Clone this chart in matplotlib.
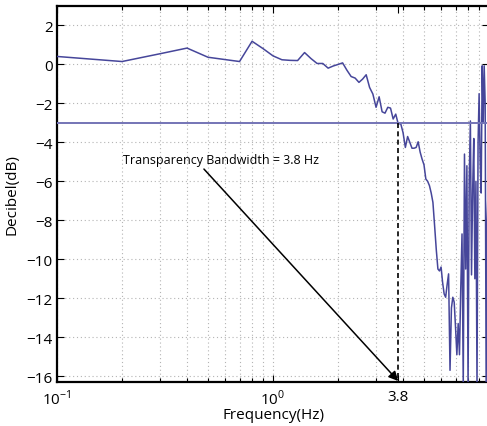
import numpy as np
import matplotlib
matplotlib.use("Agg")
import matplotlib.pyplot as plt

plt.rcParams["font.family"] = ["Open Sans", "DejaVu Sans"]
plt.rcParams["mathtext.fontset"] = "custom"
plt.rcParams["mathtext.rm"] = "Open Sans"

# frequency response (0.1 Hz steps)
freq = np.round(np.arange(1, 100) * 0.1, 1)
db = [
    0.41, 0.15, 0.55, 0.84, 0.37, 0.25, 0.15, 1.19, 0.81, 0.44,
    0.24, 0.21, 0.20, 0.61, 0.30, 0.05, 0.05, -0.19, -0.08, 0.00,
    0.08, -0.30, -0.62, -0.70, -0.92, -0.75, -0.53, -1.18, -1.52, -2.20,
    -1.66, -2.43, -2.50, -2.20, -2.24, -2.80, -2.55, -3.06, -3.03, -3.50,
    -4.26, -3.70, -4.00, -4.30, -4.30, -4.26, -3.97, -4.50, -4.86, -5.15,
    -5.88, -6.00, -6.22, -6.60, -7.08, -8.28, -9.50, -10.50, -10.60, -10.40,
    -11.20, -11.78, -11.95, -11.30, -10.75, -15.70, -12.50, -11.95, -12.20, -13.50,
    -14.90, -13.30, -14.90, -11.50, -8.70, -16.50, -4.60, -10.50, -5.20, -16.50,
    -5.90, -2.90, -10.80, -6.50, -3.80, -11.00, -6.00, -16.50, -4.00, -1.50,
    -5.00, -6.60, -0.07, -3.00, -0.07, -2.00, -16.50, -8.00, -6.50,
]
cutoff_db = -3
bandwidth = 3.8

xticks = [0.1, 1, bandwidth]
xticklabels = [r"$10^{-1}$", r"$10^{0}$", "3.8"]
yticks = list(range(-16, 3, 2))

fig = plt.figure(figsize=(4.87, 4.27), dpi=100)
W, H = 487, 427
ax = fig.add_axes([57 / W, (H - 383) / H, (489 - 57) / W, (383 - 7) / H])

ax.plot(freq, db, color="#46469a", lw=1.1, zorder=3)
ax.axhline(cutoff_db, color="#7474b6", lw=1.4, zorder=3)
ax.plot([bandwidth, bandwidth], [cutoff_db, -16.3], color="black", ls=(0, (3, 2)),
        lw=1.2, zorder=4)

ax.set_xscale("log")
ax.set_xlim(0.1, 10)
ax.set_ylim(-16.3, 3)
ax.set_xticks(xticks)
ax.set_xticklabels(xticklabels)
ax.set_yticks(yticks)
ax.set_yticklabels([f"\u2212{abs(v)}" if v < 0 else str(v) for v in yticks])

ax.grid(which="major", color="#b4b4b4", ls=(0, (1, 2.5)), lw=0.8)
ax.grid(which="minor", axis="x", color="#b4b4b4", ls=(0, (1, 2.5)), lw=0.8)
ax.xaxis.get_gridlines()[2].set_visible(False)

ax.tick_params(which="both", direction="in", top=True, right=True, labelsize=11)
ax.tick_params(which="major", length=5, width=0.8)
ax.tick_params(which="minor", length=3, width=0.8)
ax.tick_params(axis="x", pad=5)
ax.tick_params(axis="y", pad=3)
for s in ax.spines.values():
    s.set_linewidth(1.6)

ax.set_xlabel("Frequency(Hz)", fontsize=11, labelpad=-1)
ax.set_ylabel("Decibel(dB)", fontsize=11, labelpad=5)

ax.text(0.2023, -4.86, "Transparency Bandwidth = 3.8 Hz", fontsize=9,
        ha="left", va="center")
ax.annotate("", xy=(bandwidth, -16.25), xytext=(0.479, -5.37),
            arrowprops=dict(arrowstyle="-|>", color="black", lw=1.1,
                            mutation_scale=14, shrinkA=0, shrinkB=0))

fig.savefig("out.png", dpi=100)
